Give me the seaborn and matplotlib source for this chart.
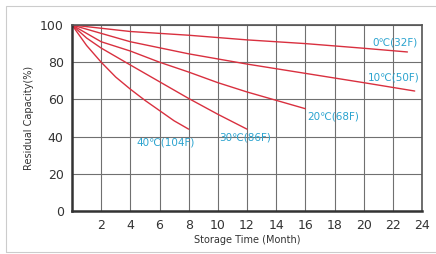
import pandas as pd
import numpy as np
import matplotlib
matplotlib.use('Agg')
import matplotlib.pyplot as plt
import seaborn as sns

# --- data ---
m_0c = [0, 4, 8, 12, 16, 20, 23]
v_0c = [100, 96.5, 94.5, 92, 90, 87.5, 85.5]

m_10c = [0, 4, 8, 12, 16, 20, 23.5]
v_10c = [100, 91, 84.5, 79, 74, 69, 64.5]

m_20c = [0, 2, 4, 6, 8, 10, 12, 14, 16]
v_20c = [100, 91, 86, 80, 74.7, 69, 64, 59.5, 55]

m_30c = [0, 1, 2, 4, 6, 8, 10, 12]
v_30c = [100, 93, 87.6, 78.5, 69.5, 60.5, 52, 44]

m_40c = [0, 1, 2, 3, 4, 5, 6, 7, 8]
v_40c = [100, 89, 80, 72, 65.5, 59.5, 54, 48.5, 44]

series_names = ['0℃(32F)', '10℃(50F)', '20℃(68F)', '30℃(86F)', '40℃(104F)']
# label anchor (month, capacity) for each curve
label_x = [20.6, 20.3, 16.1, 10.1, 4.4]
label_y = [90.5, 72, 51, 39.5, 37]

x_ticks = list(range(2, 25, 2))
y_ticks = [0, 20, 40, 60, 80, 100]

# long-form table for seaborn
frames = []
for name, m, v in zip(series_names,
                      [m_0c, m_10c, m_20c, m_30c, m_40c],
                      [v_0c, v_10c, v_20c, v_30c, v_40c]):
    frames.append(pd.DataFrame({'Month': m, 'Capacity': v, 'Temp': name}))
df = pd.concat(frames, ignore_index=True)

# --- plotting ---
sns.set_style('white')
plt.rcParams['font.family'] = ['DejaVu Sans']

fig = plt.figure(figsize=(4.36, 2.54), dpi=100)
ax = fig.add_axes([72 / 436, 1 - 211 / 254, 350 / 436, 186 / 254])

line_red = '#d9303f'
sns.lineplot(data=df, x='Month', y='Capacity', hue='Temp', ax=ax,
             palette=[line_red] * len(series_names), legend=False,
             linewidth=1.0, sort=False, estimator=None)

for name, lx, ly in zip(series_names, label_x, label_y):
    ax.text(lx, ly, name, color='#2aa3cf', fontsize=7.5, va='center', ha='left')

ax.set_xlim(0, 24)
ax.set_ylim(0, 100)
ax.set_xticks(x_ticks)
ax.set_yticks(y_ticks)
ax.set_xticklabels([str(t) for t in x_ticks], color='#333333', fontsize=9)
ax.set_yticklabels([str(t) for t in y_ticks], color='#333333', fontsize=9)
ax.tick_params(length=0, pad=6)
ax.grid(True, color='#707070', linewidth=0.8)
for s in ax.spines.values():
    s.set_color('#555555')
    s.set_linewidth(1.2)
ax.spines['bottom'].set_color('#333333')
ax.spines['bottom'].set_linewidth(1.8)
ax.spines['left'].set_color('#333333')
ax.spines['left'].set_linewidth(1.8)

ax.set_xlabel('Storage Time (Month)', fontsize=7, color='#333333', labelpad=2)
ax.set_ylabel('Residual Capacity(%)', fontsize=7, color='#333333', labelpad=4)

# thin outer frame like the reference picture
fig.patches.append(plt.Rectangle((6 / 436, 2 / 254), 1.2, 246 / 254,
                                 transform=fig.transFigure, fill=False,
                                 edgecolor='#cccccc', linewidth=0.8))

fig.savefig('out.png', dpi=100)
